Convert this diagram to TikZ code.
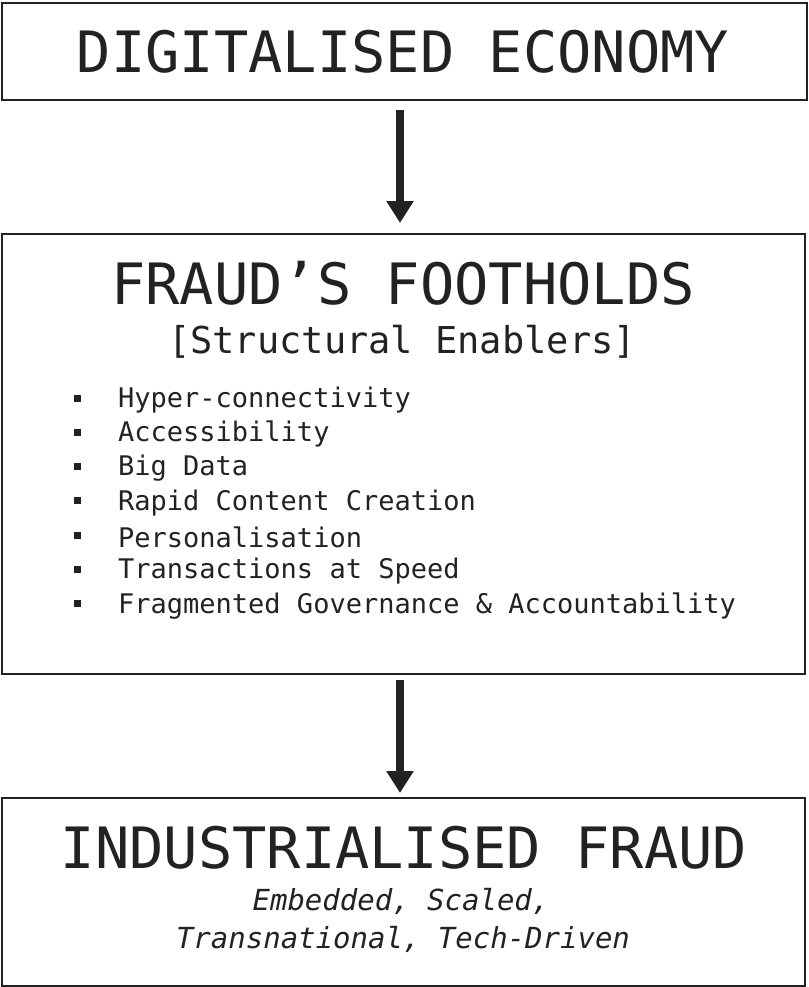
\documentclass[tikz,border=0pt]{standalone}
\usepackage{fontspec}
\setmonofont{DejaVu Sans Mono}
\usetikzlibrary{arrows.meta}
\definecolor{ink}{HTML}{222222}
\tikzset{
  box/.style={draw=ink,line width=2pt,inner sep=0pt,anchor=north west},
  bigarrow/.style={draw=ink,line width=8pt,-{Triangle[width=26pt,length=22pt]}},
  title/.style={font=\ttfamily\fontsize{57}{57}\selectfont,text=ink,inner sep=0pt},
  item/.style={font=\ttfamily\fontsize{27}{27}\selectfont,text=ink,inner sep=0pt,anchor=west},
  sub/.style={font=\ttfamily\itshape\fontsize{29}{29}\selectfont,text=ink,inner sep=0pt},
  bul/.style={fill=ink,minimum size=7pt,inner sep=0pt}
}
\begin{document}
\begin{tikzpicture}[x=1pt,y=-1pt]
\useasboundingbox (0,0) rectangle (808,987);
\node[box,minimum width=805pt,minimum height=97pt] (b1) at (1,2) {};
\node[box,minimum width=803pt,minimum height=440pt] (b2) at (1,233) {};
\node[box,minimum width=803pt,minimum height=188pt] (b3) at (1,797) {};
\node[title] (t1) at (403,52) {DIGITALISED ECONOMY};
\node[title] (t2) at (403,283) {FRAUD’S FOOTHOLDS};
\node[font=\ttfamily\fontsize{37}{37}\selectfont,text=ink,inner sep=0pt] (t2s) at (402,342) {[Structural Enablers]};
\foreach \t [count=\i] in {Hyper-connectivity,Accessibility,Big Data,Rapid Content Creation,Personalisation,Transactions at Speed,Fragmented Governance \& Accountability}{
  \node[bul] (bu\i) at (77,{398+34.3*(\i-1)}) {};
  \node[item] (it\i) at (118,{400+34.3*(\i-1)}) {\t};
}
\node[title] (t3) at (404,848) {INDUSTRIALISED FRAUD};
\node[sub] (s1) at (401,901) {Embedded, Scaled,};
\node[sub] (s2) at (403,939) {Transnational, Tech-Driven};
\draw[bigarrow] (400,110) -- (400,223);
\draw[bigarrow] (400,680) -- (400,793);
\end{tikzpicture}
\end{document}
